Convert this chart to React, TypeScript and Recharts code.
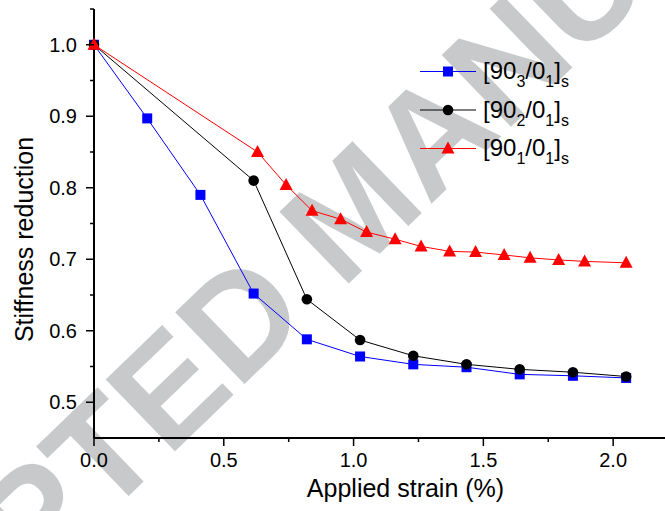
import React from 'react';
import { LineChart, Line, XAxis, YAxis } from 'recharts';

// Applied strain (%) and normalised stiffness for each laminate lay-up
const strain903 = [0, 0.205, 0.41, 0.615, 0.82, 1.025, 1.23, 1.435, 1.64, 1.845, 2.05];
const stiff903 = [1.0, 0.897, 0.79, 0.652, 0.588, 0.564, 0.553, 0.549, 0.539, 0.537, 0.534];

const strain902 = [0, 0.615, 0.82, 1.025, 1.23, 1.435, 1.64, 1.845, 2.05];
const stiff902 = [1.0, 0.81, 0.644, 0.587, 0.565, 0.553, 0.546, 0.542, 0.536];

const strain901 = [0, 0.63, 0.74, 0.84, 0.95, 1.05, 1.16, 1.26, 1.37, 1.47, 1.58, 1.68, 1.79, 1.89, 2.05];
const stiff901 = [1.0, 0.85, 0.804, 0.768, 0.756, 0.738, 0.728, 0.718, 0.711, 0.71, 0.706, 0.702, 0.699, 0.697, 0.695];

// Axis ticks (major ones carry a label)
const xTicks = [0, 0.25, 0.5, 0.75, 1.0, 1.25, 1.5, 1.75, 2.0, 2.25];
const xMajor = [0, 0.5, 1.0, 1.5, 2.0];
const yTicks = [0.5, 0.55, 0.6, 0.65, 0.7, 0.75, 0.8, 0.85, 0.9, 0.95, 1.0, 1.05];
const yMajor = [0.5, 0.6, 0.7, 0.8, 0.9, 1.0];

const seriesNames = ['90_3/0_1', '90_2/0_1', '90_1/0_1'];

const FONT = '"Liberation Sans", Arial, Helvetica, sans-serif';

const zip = (xs: number[], ys: number[]) => xs.map((x, i) => ({ x, y: ys[i] }));
const data903 = zip(strain903, stiff903);
const data902 = zip(strain902, stiff902);
const data901 = zip(strain901, stiff901);

const isIn = (list: number[], v: number) => list.some((m) => Math.abs(m - v) < 1e-6);

const XTick = (props: any) => {
  const { x, y, payload } = props;
  const v = payload.value as number;
  const major = isIn(xMajor, v);
  return (
    <g>
      <line x1={x} x2={x} y1={y} y2={y + (major ? 8 : 4)} stroke="#000" strokeWidth={1.5} />
      {major && (
        <text x={x} y={y + 29} textAnchor="middle" fontSize={20} fontFamily={FONT} fill="#000">
          {v.toFixed(1)}
        </text>
      )}
    </g>
  );
};

const YTick = (props: any) => {
  const { x, y, payload } = props;
  const v = payload.value as number;
  const major = isIn(yMajor, v);
  return (
    <g>
      <line x1={x - (major ? 8 : 4)} x2={x} y1={y} y2={y} stroke="#000" strokeWidth={1.5} />
      {major && (
        <text x={x - 17} y={y + 7} textAnchor="end" fontSize={20} fontFamily={FONT} fill="#000">
          {v.toFixed(1)}
        </text>
      )}
    </g>
  );
};

const squareDot = (p: any) =>
  p.cx == null ? null : (
    <rect key={`sq${p.index}`} x={p.cx - 5} y={p.cy - 5} width={10} height={10} fill="#0000ff" />
  );
const circleDot = (p: any) =>
  p.cx == null ? null : <circle key={`ci${p.index}`} cx={p.cx} cy={p.cy} r={5.3} fill="#000" />;
const triangleDot = (p: any) =>
  p.cx == null ? null : (
    <polygon
      key={`tr${p.index}`}
      points={`${p.cx},${p.cy - 7} ${p.cx - 6.5},${p.cy + 5} ${p.cx + 6.5},${p.cy + 5}`}
      fill="#ff0000"
    />
  );

const YTitle = (props: any) => {
  const vb = props.viewBox || { x: 0, y: 9, width: 94, height: 429 };
  const cx = vb.x + 33;
  const cy = vb.y + vb.height / 2 + 16;
  return (
    <text
      transform={`translate(${cx},${cy}) rotate(-90)`}
      textAnchor="middle"
      fontSize={25}
      fontFamily={FONT}
      fill="#000"
    >
      Stiffness reduction
    </text>
  );
};

// Lay-up label such as [90_3/0_1]_s with subscripts
const LayupLabel = ({ x, y, name }: { x: number; y: number; name: string }) => {
  const [a, b] = name.split('/');
  const [aBase, aSub] = a.split('_');
  const [bBase, bSub] = b.split('_');
  const sub = 16;
  const drop = 8;
  return (
    <text x={x} y={y} fontSize={24} fontFamily={FONT} fill="#000">
      [{aBase}
      <tspan fontSize={sub} dy={drop}>{aSub}</tspan>
      <tspan dy={-drop}>/{bBase}</tspan>
      <tspan fontSize={sub} dy={drop}>{bSub}</tspan>
      <tspan dy={-drop}>]</tspan>
      <tspan fontSize={sub} dy={drop}>s</tspan>
    </text>
  );
};

const LegendBox = () => {
  const rows = [
    { y: 71.5, color: '#0000ff', marker: 'square' },
    { y: 110, color: '#000000', marker: 'circle' },
    { y: 148.5, color: '#ff0000', marker: 'triangle' },
  ];
  return (
    <svg width={665} height={511} style={{ position: 'absolute', left: 0, top: 0, pointerEvents: 'none' }}>
      {rows.map((r, i) => {
        const mx = 448;
        return (
          <g key={i}>
            <line x1={420} x2={476} y1={r.y} y2={r.y} stroke={r.color} strokeWidth={1} />
            {r.marker === 'square' && <rect x={mx - 5} y={r.y - 5} width={10} height={10} fill={r.color} />}
            {r.marker === 'circle' && <circle cx={mx} cy={r.y} r={5.3} fill={r.color} />}
            {r.marker === 'triangle' && (
              <polygon points={`${mx},${r.y - 7} ${mx - 6.5},${r.y + 5} ${mx + 6.5},${r.y + 5}`} fill={r.color} />
            )}
            <LayupLabel x={483} y={r.y + 7.5} name={seriesNames[i]} />
          </g>
        );
      })}
    </svg>
  );
};

const Watermark = () => (
  <svg width={665} height={511} style={{ position: 'absolute', left: 0, top: 0 }}>
    <text
      transform="translate(352,208) rotate(-44)"
      x={0}
      y={52}
      textAnchor="middle"
      fontSize={145}
      fontWeight="bold"
      fontFamily={FONT}
      fill="#c8c9cb"
    >
      ACCEPTED MANUSCRIPT
    </text>
  </svg>
);

export default function App() {
  return (
    <div
      style={{
        position: 'absolute',
        left: 0,
        top: 0,
        width: 665,
        height: 511,
        overflow: 'hidden',
        background: '#fff',
      }}
    >
      <Watermark />
      <div style={{ position: 'absolute', left: 0, top: 0 }}>
        <LineChart width={717} height={511} margin={{ top: 9, right: 0, bottom: 0, left: 0 }}>
          <XAxis
            xAxisId="top"
            orientation="top"
            type="number"
            domain={[0, 2.4]}
            height={0}
            tick={false}
            tickLine={false}
            axisLine={{ stroke: '#000', strokeWidth: 2 }}
          />
          <XAxis
            dataKey="x"
            type="number"
            domain={[0, 2.4]}
            ticks={xTicks}
            interval={0}
            height={73}
            tickSize={0}
            tickMargin={0}
            tickLine={false}
            tick={<XTick />}
            axisLine={{ stroke: '#000', strokeWidth: 2 }}
            label={{ value: 'Applied strain (%)', position: 'insideBottom', offset: 14, fontSize: 25, fontFamily: FONT, fill: '#000' }}
          />
          <YAxis
            type="number"
            domain={[0.45, 1.05]}
            ticks={yTicks}
            interval={0}
            width={94}
            tickSize={0}
            tickMargin={0}
            tickLine={false}
            tick={<YTick />}
            axisLine={{ stroke: '#000', strokeWidth: 2 }}
            label={{ content: <YTitle /> }}
          />
          <Line
            data={data903}
            dataKey="y"
            name={seriesNames[0]}
            stroke="#0000ff"
            strokeWidth={1}
            dot={squareDot}
            activeDot={false}
            isAnimationActive={false}
          />
          <Line
            data={data902}
            dataKey="y"
            name={seriesNames[1]}
            stroke="#000000"
            strokeWidth={1}
            dot={circleDot}
            activeDot={false}
            isAnimationActive={false}
          />
          <Line
            data={data901}
            dataKey="y"
            name={seriesNames[2]}
            stroke="#ff0000"
            strokeWidth={1}
            dot={triangleDot}
            activeDot={false}
            isAnimationActive={false}
          />
        </LineChart>
      </div>
      <LegendBox />
    </div>
  );
}
